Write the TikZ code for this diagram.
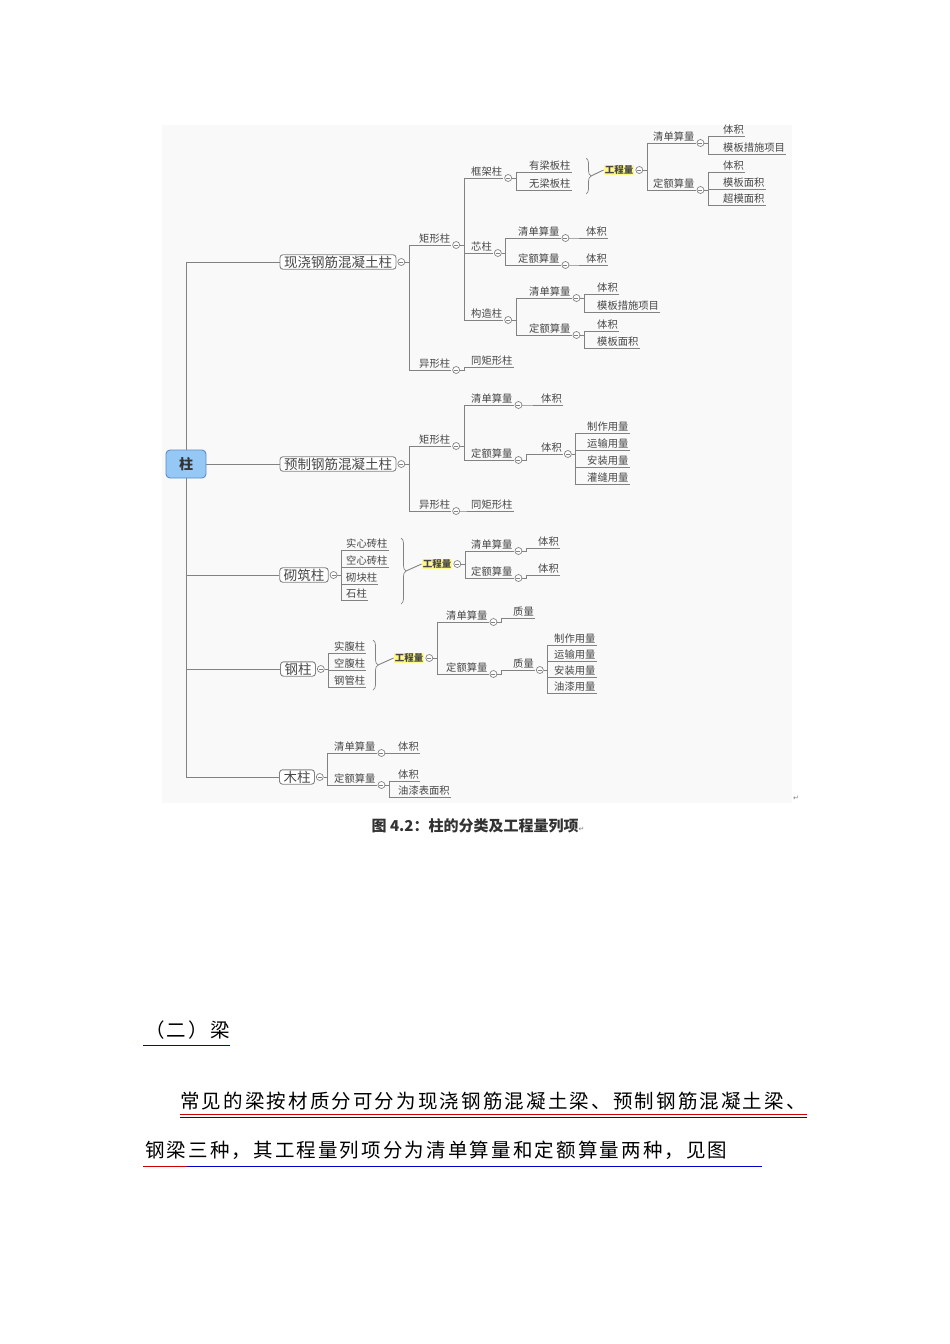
\documentclass[tikz,border=0pt]{standalone}
\usepackage{fontspec}
\setmainfont{Noto Sans CJK SC}
\newfontfamily\djv{DejaVu Sans}
\newfontfamily\wide[LetterSpace=11]{Noto Sans CJK SC}
\usetikzlibrary{decorations.pathreplacing}
\definecolor{ln}{RGB}{130,130,130}
\definecolor{tx}{RGB}{70,70,70}
\definecolor{rootf}{RGB}{150,200,245}
\definecolor{rootd}{RGB}{90,140,200}
\tikzset{
 lnk/.style={draw=ln,line width=0.9pt},
 lb/.style={anchor=south west,inner sep=1pt,text=tx,font=\fontsize{10.3}{11}\selectfont,
   append after command={(\tikzlastnode.south west) edge[lnk] (\tikzlastnode.south east)}},
 box/.style={draw=ln,line width=0.9pt,rounded corners=3pt,fill=white,text=tx,inner xsep=4pt,inner ysep=1pt,font=\fontsize{13.5}{14}\selectfont},
 mc/.style={circle,draw=ln,line width=0.7pt,minimum size=7pt,inner sep=0pt,fill=white,anchor=west,
   path picture={\draw[ln,line width=0.7pt] ([xshift=-2pt]path picture bounding box.center) -- ([xshift=2pt]path picture bounding box.center);}},
 gcl/.style={fill=yellow!45,inner sep=1pt,text=tx,font=\fontsize{9.5}{10}\selectfont\bfseries},
 brc/.style={draw=ln,line width=0.7pt,decorate,decoration={brace,amplitude=5pt}},
}
\newcommand\lab[4]{\node[lb] (#1) at (#2,#3) {#4};}
\newcommand\mi[2]{\node[mc] (#1) at ([xshift=1pt]#2.south east) {};}
\newcommand\mb[2]{\node[mc] (#1) at ([xshift=1pt]#2.east) {};}
\newcommand\conn[2]{\draw[lnk] (#1.east) -- ++(4,0) |- (#2.south west);}
\begin{document}
\begin{tikzpicture}[x=1pt,y=-1pt]
\useasboundingbox (0,0) rectangle (950,1344);
\fill[white] (0,0) rectangle (950,1344);
\fill[gray!5] (162,125) rectangle (792,803);
% root
\node[draw=rootd,fill=rootf,line width=0.9pt,rounded corners=4pt,minimum width=40pt,minimum height=28pt,font=\fontsize{14}{14}\selectfont\bfseries,text=black!80] (root) at (186,464) {柱};
\node[box] (b1) at (338,262) {现浇钢筋混凝土柱};
\node[box] (b2) at (338,464) {预制钢筋混凝土柱};
\node[box] (b3) at (304,575) {砌筑柱};
\node[box] (b4) at (298,669) {钢柱};
\node[box] (b5) at (297,777) {木柱};
\draw[lnk] (root.north) |- (b1.west);
\draw[lnk] (root.east) -- (b2.west);
\draw[lnk] (root.south) |- (b3.west);
\draw[lnk] (root.south) |- (b4.west);
\draw[lnk] (root.south) |- (b5.west);
\mb{m1}{b1}\mb{m2}{b2}\mb{m3}{b3}\mb{m4}{b4}\mb{m5}{b5}
% ---- b1
\lab{a1}{418}{245}{矩形柱}\lab{a2}{418}{370}{异形柱}
\conn{m1}{a1}\conn{m1}{a2}
\mi{ma1}{a1}\mi{ma2}{a2}
\lab{k1}{470}{178}{框架柱}\lab{k2}{470}{253}{芯柱}\lab{k3}{470}{320}{构造柱}
\conn{ma1}{k1}\conn{ma1}{k2}\conn{ma1}{k3}
\lab{t1}{470}{367}{同矩形柱}\conn{ma2}{t1}
\mi{mk1}{k1}\mi{mk2}{k2}\mi{mk3}{k3}
\lab{y1}{528}{172}{有梁板柱}\lab{y2}{528}{190}{无梁板柱}
\conn{mk1}{y1}\conn{mk1}{y2}
\draw[brc] (586,158) -- (586,194) coordinate[pos=0.5] (br1);
\node[gcl] (g1) at (619,170) {工程量};
\draw[lnk] ([xshift=5pt]br1) -- (g1.west);
\mb{mg1}{g1}
\lab{q1}{652}{143}{清单算量}\lab{d1}{652}{190}{定额算量}
\conn{mg1}{q1}\conn{mg1}{d1}
\mi{mq1}{q1}\mi{md1}{d1}
\lab{l1}{722}{136}{体积}\lab{l2}{722}{154}{模板措施项目}
\conn{mq1}{l1}\conn{mq1}{l2}
\lab{l3}{722}{172}{体积}\lab{l4}{722}{189}{模板面积}\lab{l5}{722}{205}{超模面积}
\conn{md1}{l3}\conn{md1}{l4}\conn{md1}{l5}
\lab{q2}{517}{238}{清单算量}\lab{d2}{517}{265}{定额算量}
\conn{mk2}{q2}\conn{mk2}{d2}\mi{mq2}{q2}\mi{md2}{d2}
\lab{l6}{585}{238}{体积}\lab{l7}{585}{265}{体积}
\conn{mq2}{l6}\conn{md2}{l7}
\lab{q3}{528}{298}{清单算量}\lab{d3}{528}{335}{定额算量}
\conn{mk3}{q3}\conn{mk3}{d3}\mi{mq3}{q3}\mi{md3}{d3}
\lab{l8}{596}{294}{体积}\lab{l9}{596}{312}{模板措施项目}
\lab{l10}{596}{331}{体积}\lab{l11}{596}{348}{模板面积}
\conn{mq3}{l8}\conn{mq3}{l9}\conn{md3}{l10}\conn{md3}{l11}
% ---- b2
\lab{a3}{418}{446}{矩形柱}\lab{a4}{418}{511}{异形柱}
\conn{m2}{a3}\conn{m2}{a4}\mi{ma3}{a3}\mi{ma4}{a4}
\lab{q4}{470}{405}{清单算量}\lab{d4}{470}{460}{定额算量}
\conn{ma3}{q4}\conn{ma3}{d4}\mi{mq4}{q4}\mi{md4}{d4}
\lab{t2}{470}{511}{同矩形柱}\conn{ma4}{t2}
\lab{l12}{540}{405}{体积}\conn{mq4}{l12}
\lab{v1}{540}{454}{体积}\conn{md4}{v1}\mi{mv1}{v1}
\lab{u1}{586}{433}{制作用量}\lab{u2}{586}{450}{运输用量}\lab{u3}{586}{467}{安装用量}\lab{u4}{586}{484}{灌缝用量}
\conn{mv1}{u1}\conn{mv1}{u2}\conn{mv1}{u3}\conn{mv1}{u4}
% ---- b3
\lab{s1}{345}{550}{实心砖柱}\lab{s2}{345}{567}{空心砖柱}\lab{s3}{345}{584}{砌块柱}\lab{s4}{345}{600}{石柱}
\conn{m3}{s1}\conn{m3}{s2}\conn{m3}{s3}\conn{m3}{s4}
\draw[brc] (401,538) -- (401,604) coordinate[pos=0.5] (br2);
\node[gcl] (g2) at (437,564) {工程量};
\draw[lnk] ([xshift=5pt]br2) -- (g2.west);
\mb{mg2}{g2}
\lab{q5}{470}{551}{清单算量}\lab{d5}{470}{578}{定额算量}
\conn{mg2}{q5}\conn{mg2}{d5}\mi{mq5}{q5}\mi{md5}{d5}
\lab{l13}{537}{548}{体积}\lab{l14}{537}{575}{体积}
\conn{mq5}{l13}\conn{md5}{l14}
% ---- b4
\lab{s5}{333}{653}{实腹柱}\lab{s6}{333}{670}{空腹柱}\lab{s7}{333}{687}{钢管柱}
\conn{m4}{s5}\conn{m4}{s6}\conn{m4}{s7}
\draw[brc] (373,640) -- (373,690) coordinate[pos=0.5] (br3);
\node[gcl] (g3) at (409,658) {工程量};
\draw[lnk] ([xshift=5pt]br3) -- (g3.west);
\mb{mg3}{g3}
\lab{q6}{445}{622}{清单算量}\lab{d6}{445}{674}{定额算量}
\conn{mg3}{q6}\conn{mg3}{d6}\mi{mq6}{q6}\mi{md6}{d6}
\lab{l15}{512}{618}{质量}\conn{mq6}{l15}
\lab{v2}{512}{670}{质量}\conn{md6}{v2}\mi{mv2}{v2}
\lab{u5}{553}{645}{制作用量}\lab{u6}{553}{661}{运输用量}\lab{u7}{553}{677}{安装用量}\lab{u8}{553}{693}{油漆用量}
\conn{mv2}{u5}\conn{mv2}{u6}\conn{mv2}{u7}\conn{mv2}{u8}
% ---- b5
\lab{q7}{333}{753}{清单算量}\lab{d7}{333}{785}{定额算量}
\conn{m5}{q7}\conn{m5}{d7}\mi{mq7}{q7}\mi{md7}{d7}
\lab{l16}{397}{753}{体积}\conn{mq7}{l16}
\lab{l17}{397}{781}{体积}\lab{l18}{397}{797}{油漆表面积}
\conn{md7}{l17}\conn{md7}{l18}
% caption
\node[font=\fontsize{15}{15}\selectfont\bfseries,text=black!80] (cap) at (478,826) {图 4.2：柱的分类及工程量列项{\djv\mdseries\fontsize{7}{7}\selectfont\color{gray}↵}};
\node[font=\djv\fontsize{7}{7}\selectfont,text=gray] (rt) at (796,798) {↵};
% text below
\node[anchor=south west,inner sep=0pt,font=\wide\fontsize{19.5}{20}\selectfont] (h2) at (145,1040) {（二）梁};
\draw[blue!80!black,line width=1pt] (143,1045) -- (230,1045);
\node[anchor=south west,inner sep=0pt,font=\wide\fontsize{19.5}{20}\selectfont] (p1) at (180,1110) {常见的梁按材质分可分为现浇钢筋混凝土梁、预制钢筋混凝土梁、};
\draw[red!80!black,line width=1pt] (180,1114) -- (807,1114);
\draw[blue!80!black,line width=1pt] (180,1117) -- (807,1117);
\node[anchor=south west,inner sep=0pt,font=\wide\fontsize{19.5}{20}\selectfont] (p2) at (145,1160) {钢梁三种，其工程量列项分为清单算量和定额算量两种，见图};
\draw[red!80!black,line width=1pt] (143,1166) -- (187,1166);
\draw[blue!80!black,line width=1pt] (187,1166) -- (762,1166);
\end{tikzpicture}
\end{document}
